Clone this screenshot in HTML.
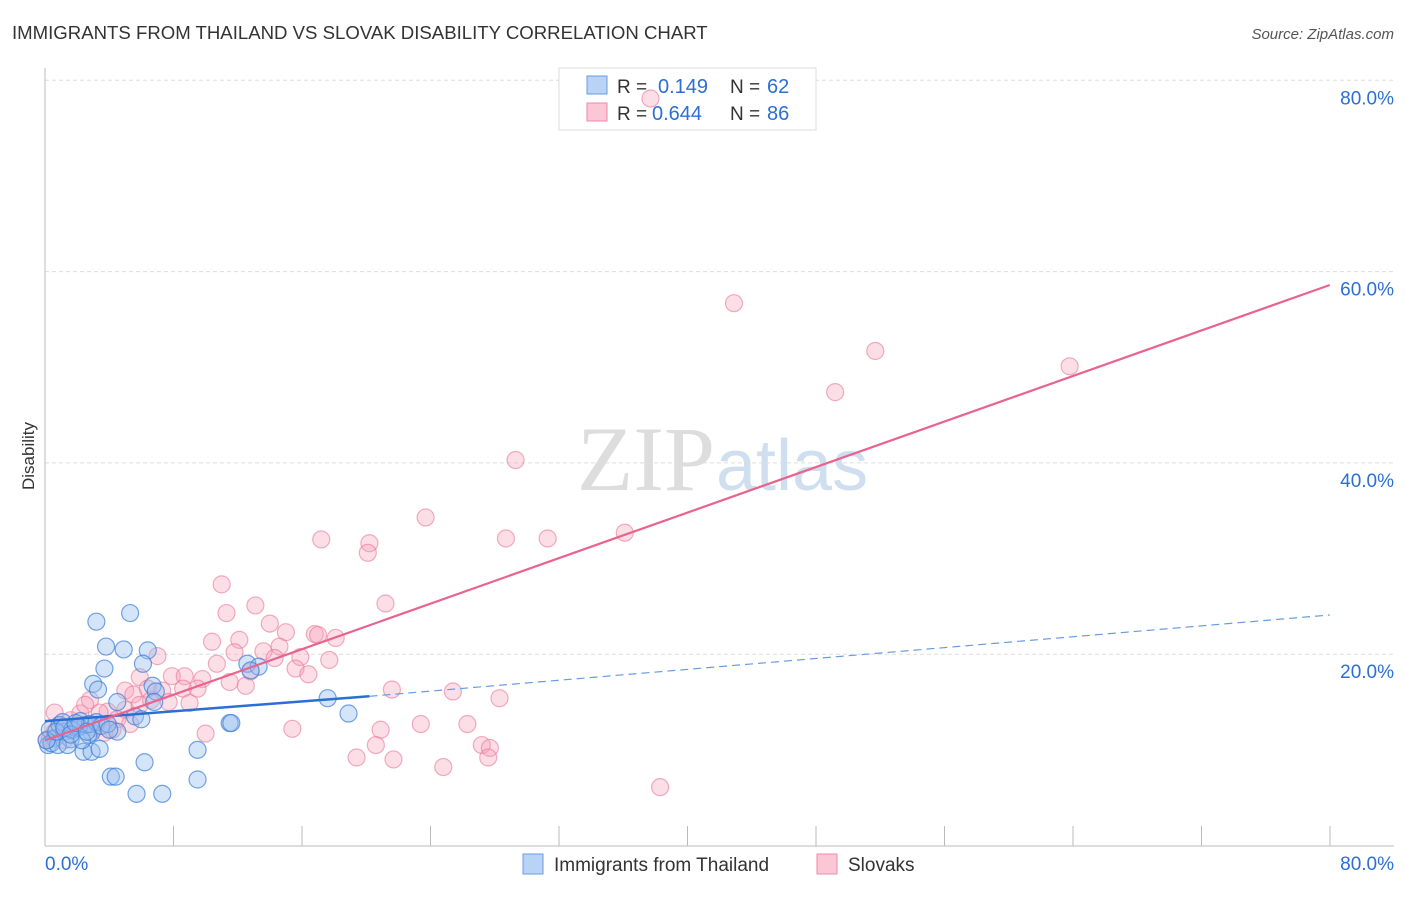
<!DOCTYPE html>
<html><head><meta charset="utf-8"><style>
body{margin:0;background:#fff;font-family:"Liberation Sans",sans-serif}
</style></head><body>
<svg width="1406" height="892" xmlns="http://www.w3.org/2000/svg" id="svg">
<text x="12" y="39" font-size="18.6" fill="#333">IMMIGRANTS FROM THAILAND VS SLOVAK DISABILITY CORRELATION CHART</text>
<text x="1394" y="39" font-size="15" fill="#555" font-style="italic" text-anchor="end">Source: ZipAtlas.com</text>
<text x="34" y="456" font-size="17" fill="#333" transform="rotate(-90 34 456)" text-anchor="middle">Disability</text>
<text x="715" y="490" font-size="92" fill="#ddd" text-anchor="end" font-family="Liberation Serif">ZIP</text>
<text x="716" y="490" font-size="72" fill="#cfdff0">atlas</text>
<g id="grid"></g>
<g>
<rect x="559" y="68" width="257" height="62" fill="#fff" stroke="#ddd"/>
<rect x="587" y="76" width="20" height="18" fill="#b8d3f5" stroke="#6a9be0"/>
<rect x="587" y="103" width="20" height="18" fill="#fbc6d6" stroke="#ee8aa8"/>
<text x="617" y="93" font-size="19" fill="#333">R =</text>
<text x="658" y="93" font-size="20" fill="#2b6fd6">0.149</text>
<text x="730" y="93" font-size="19" fill="#333">N =</text>
<text x="767" y="93" font-size="20" fill="#2b6fd6">62</text>
<text x="617" y="120" font-size="19" fill="#333">R =</text>
<text x="652" y="120" font-size="20" fill="#2b6fd6">0.644</text>
<text x="730" y="120" font-size="19" fill="#333">N =</text>
<text x="767" y="120" font-size="20" fill="#2b6fd6">86</text>
</g>
<g id="pts"></g><g id="lines"></g>
<g>
<rect x="523" y="854" width="20" height="20" fill="#b8d3f5" stroke="#6a9be0"/>
<text x="554" y="871" font-size="19" fill="#333">Immigrants from Thailand</text>
<rect x="817" y="854" width="20" height="20" fill="#fbc6d6" stroke="#ee8aa8"/>
<text x="848" y="871" font-size="19" fill="#333">Slovaks</text>
</g>
</svg>
<script>
const yTicks=[20,40,60,80];
const xTickLabels=["0.0%","80.0%"];
const blueX=[3.2,5.3,3.8,4.9,6.4,6.1,3.7,3.0,3.3,6.7,6.9,6.8,4.5,5.6,6.0,4.5,2.9,2.4,2.9,3.4,4.1,4.4,6.2,9.5,9.5,5.7,7.3,11.5,11.6,12.6,13.3,12.8,17.6,18.9,0.3,0.6,0.9,1.2,1.6,1.9,2.2,2.5,2.7,0.2,0.4,0.8,1.1,1.4,1.7,2.1,2.3,2.8,3.2,3.5,3.9,4.0,0.1,0.7,1.2,1.6,1.9,2.6];
const blueY=[23.4,24.3,20.8,20.5,20.4,19.0,18.5,16.9,16.3,16.7,16.1,15.0,15.0,13.5,13.2,11.9,11.8,9.8,9.8,10.1,7.2,7.2,8.7,10.0,6.9,5.4,5.4,12.8,12.8,19.0,18.7,18.3,15.4,13.8,12.1,11.2,12.6,11.9,11.1,12.3,13.0,12.6,11.6,10.5,10.7,10.5,12.9,10.5,12.1,12.4,11.0,12.7,12.9,12.5,12.7,12.1,11.0,11.9,12.3,11.6,12.8,11.9];
const pinkX=[37.7,42.9,51.7,49.2,63.8,29.3,23.7,28.7,31.3,36.1,17.2,20.2,20.1,11.0,21.2,13.1,11.3,14.0,15.0,16.8,17.0,18.1,10.4,12.1,14.6,11.8,13.6,7.0,10.7,14.3,15.9,17.7,5.9,7.9,8.7,9.8,15.6,16.4,12.8,11.5,12.5,5.0,5.5,6.4,7.3,8.6,9.5,6.6,7.7,9.0,21.6,25.4,28.3,3.9,5.0,4.5,15.4,23.4,26.3,20.9,10.0,20.6,27.2,27.7,19.4,21.7,27.6,24.8,38.3,2.8,3.4,0.3,0.6,0.9,1.6,2.2,2.5,3.1,0.1,1.2,4.2,5.3,1.9,0.6,3.7,5.9];
const pinkY=[78.1,56.7,51.7,47.4,50.1,40.3,34.3,32.1,32.1,32.7,32.0,31.6,30.6,27.3,25.3,25.1,24.3,23.2,22.3,22.1,22.0,21.7,21.3,21.5,20.8,20.2,20.3,19.8,19.0,19.6,19.7,19.4,17.6,17.7,17.7,17.4,18.5,17.9,18.2,17.1,16.7,16.2,15.8,16.4,16.2,16.4,16.4,15.2,15.0,14.9,16.3,16.1,15.4,14.0,14.2,13.2,12.2,12.7,12.7,12.1,11.7,10.5,10.5,10.2,9.2,9.0,9.2,8.2,6.1,15.2,13.9,11.2,11.9,12.6,13.1,13.8,14.7,12.3,11.0,11.0,12.1,12.7,12.4,13.9,11.8,14.7];
const blueTrend=[[0,13.0],[20.2,15.6],[80,24.1]];
const pinkTrend=[[0,11.0],[80,58.6]];
const X=v=>45+v*16.06, Y=v=>845.5-v*9.565;
const NS="http://www.w3.org/2000/svg";
function mk(t,a,p){const e=document.createElementNS(NS,t);for(const k in a)e.setAttribute(k,a[k]);p.appendChild(e);return e;}
const g=document.getElementById('grid');
yTicks.forEach(t=>{
 const l=mk('line',{x1:45,x2:1394,y1:Y(t),y2:Y(t),stroke:'#ddd','stroke-dasharray':'4,3'},g);
 
 
 const tx=mk('text',{x:1394,y:Y(t)+24,'font-size':19,fill:'#2b6fd6','text-anchor':'end'},g);
 tx.textContent=t.toFixed(1)+'%';
 
 
});
mk('line',{x1:45,x2:45,y1:68,y2:846,stroke:'#bbb'},g);
mk('line',{x1:45,x2:1394,y1:846,y2:846,stroke:'#bbb'},g);
for(let i=0;i<=10;i++){mk('line',{x1:45+i*128.5,x2:45+i*128.5,y1:826,y2:846,stroke:'#bbb'},g);}
xTickLabels.forEach((s,i)=>{const tx=mk('text',{x:i?1394:45,y:870,'font-size':19,fill:'#2b6fd6','text-anchor':i?'end':'start'},g);tx.textContent=s;
 
 });
const p=document.getElementById('pts');
pinkX.forEach((v,i)=>{const c=mk('circle',{cx:X(v),cy:Y(pinkY[i]),r:8.5,fill:'rgba(246,160,185,0.35)',stroke:'rgba(234,120,155,0.6)','stroke-width':1.2},p);
 
 });
blueX.forEach((v,i)=>{const c=mk('circle',{cx:X(v),cy:Y(blueY[i]),r:8.5,fill:'rgba(150,190,240,0.4)',stroke:'rgba(60,125,215,0.7)','stroke-width':1.2},p);
 
 });
const L=document.getElementById('lines');
const b1=mk('line',{x1:X(blueTrend[0][0]),y1:Y(blueTrend[0][1]),x2:X(blueTrend[1][0]),y2:Y(blueTrend[1][1]),stroke:'#2a6fd4','stroke-width':2.5},L);


const b2=mk('line',{x1:X(blueTrend[1][0]),y1:Y(blueTrend[1][1]),x2:X(blueTrend[2][0]),y2:Y(blueTrend[2][1]),stroke:'#6a9be0','stroke-width':1.2,'stroke-dasharray':'8,5'},L);


const pl=mk('line',{x1:X(pinkTrend[0][0]),y1:Y(pinkTrend[0][1]),x2:X(pinkTrend[1][0]),y2:Y(pinkTrend[1][1]),stroke:'#e8648f','stroke-width':2.2},L);


</script>
</body></html>
